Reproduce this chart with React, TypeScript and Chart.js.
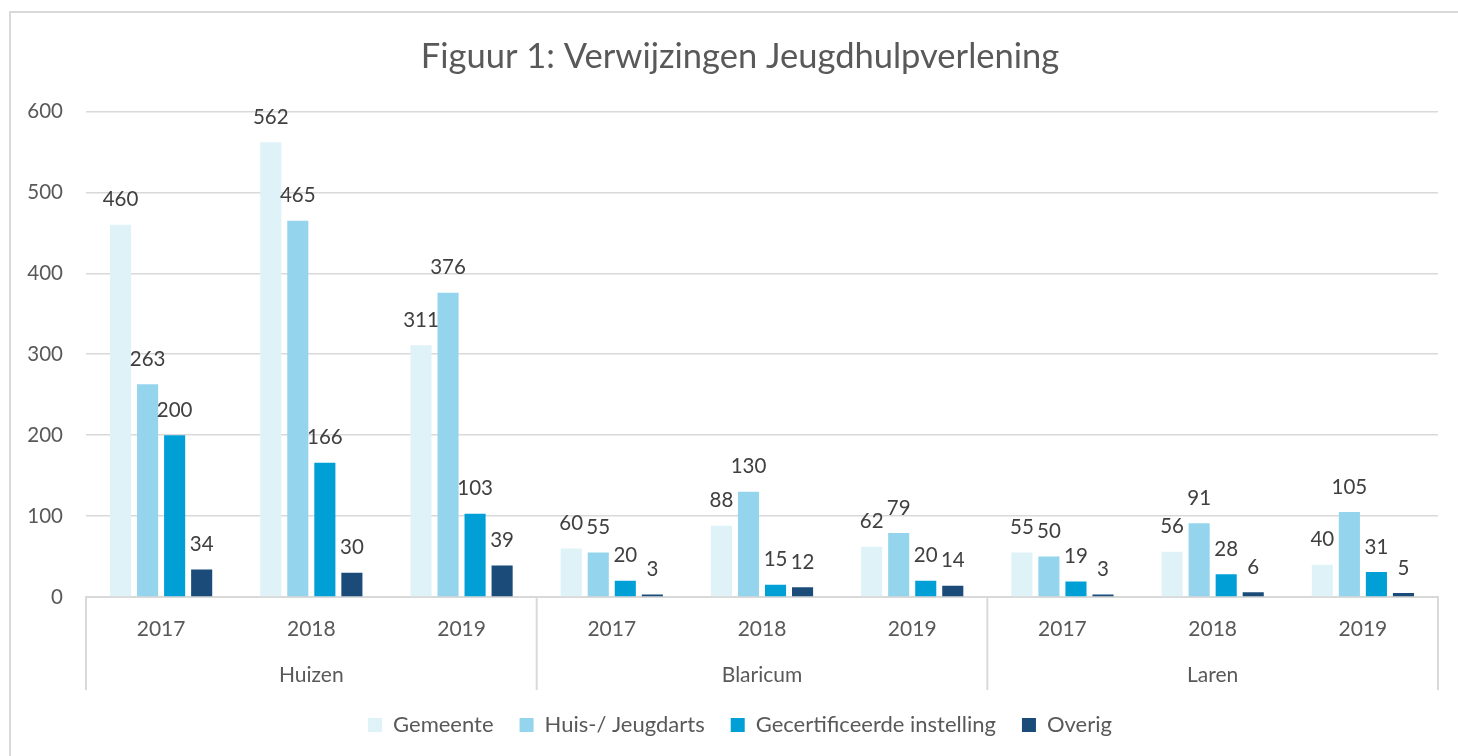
import React, { useEffect, useRef } from "react";
import { Chart, registerables } from "chart.js";

Chart.register(...registerables);

const yearLabels = ["2017", "2018", "2019", "2017", "2018", "2019", "2017", "2018", "2019"];
const groupLabels = ["Huizen", "Blaricum", "Laren"];
const groupSize = 3;

const gemeente = [460, 562, 311, 60, 88, 62, 55, 56, 40];
const huisJeugdarts = [263, 465, 376, 55, 130, 79, 50, 91, 105];
const gecertificeerd = [200, 166, 103, 20, 15, 20, 19, 28, 31];
const overig = [34, 30, 39, 3, 12, 14, 3, 6, 5];

const seriesNames = ["Gemeente", "Huis-/ Jeugdarts", "Gecertificeerde instelling", "Overig"];
const seriesColors = ["#DFF2F8", "#94D4EC", "#00A0D7", "#1B4B78"];

const yTicks = { min: 0, max: 600, step: 100 };
const titleText = "Figuur 1: Verwijzingen Jeugdhulpverlening";

const FONT = "Lato";
const GRID = "#d9d9d9";
const TEXT = "#595959";
const CANVAS_W = 1500;
const CANVAS_H = 756;

const backgroundPlugin = {
  id: "bgBorder",
  beforeDraw(chart: any) {
    const { ctx, width, height } = chart;
    ctx.save();
    ctx.fillStyle = "#ffffff";
    ctx.fillRect(0, 0, width, height);
    ctx.strokeStyle = GRID;
    ctx.lineWidth = 2;
    ctx.beginPath();
    ctx.moveTo(10, height);
    ctx.lineTo(10, 12);
    ctx.lineTo(width, 12);
    ctx.stroke();
    ctx.restore();
  },
};

const dataLabelPlugin = {
  id: "dataLabels",
  afterDatasetsDraw(chart: any) {
    const { ctx } = chart;
    ctx.save();
    ctx.font = `20.5px ${FONT}`;
    ctx.fillStyle = "#404040";
    ctx.textAlign = "center";
    ctx.textBaseline = "middle";
    chart.data.datasets.forEach((ds: any, di: number) => {
      const meta = chart.getDatasetMeta(di);
      meta.data.forEach((bar: any, i: number) => {
        ctx.fillText(String(ds.data[i]), bar.x, bar.y - 25);
      });
    });
    ctx.restore();
  },
};

const groupAxisPlugin = {
  id: "groupAxis",
  afterDraw(chart: any) {
    const { ctx, chartArea } = chart;
    const x = chart.scales.x;
    const n = yearLabels.length;
    const cat = (x.getPixelForValue(n - 1) - x.getPixelForValue(0)) / (n - 1);
    ctx.save();
    ctx.strokeStyle = GRID;
    ctx.lineWidth = 2;
    for (let g = 0; g <= groupLabels.length; g++) {
      const idx = g * groupSize;
      const px = x.getPixelForValue(0) + idx * cat - cat / 2;
      ctx.beginPath();
      ctx.moveTo(px, chartArea.bottom);
      ctx.lineTo(px, chartArea.bottom + 93);
      ctx.stroke();
    }
    ctx.font = `21px ${FONT}`;
    ctx.fillStyle = TEXT;
    ctx.textAlign = "center";
    ctx.textBaseline = "middle";
    groupLabels.forEach((label, g) => {
      const a = x.getPixelForValue(g * groupSize);
      const b = x.getPixelForValue(g * groupSize + groupSize - 1);
      ctx.fillText(label, (a + b) / 2, chartArea.bottom + 78);
    });
    ctx.restore();
  },
};

export default function App() {
  const ref = useRef<HTMLCanvasElement | null>(null);

  useEffect(() => {
    if (!ref.current) return;
    const values = [gemeente, huisJeugdarts, gecertificeerd, overig];
    const chart = new Chart(ref.current, {
      type: "bar",
      data: {
        labels: yearLabels,
        datasets: values.map((d, i) => ({
          label: seriesNames[i],
          data: d,
          backgroundColor: seriesColors[i],
          borderWidth: 0,
          categoryPercentage: 0.72,
          barPercentage: 0.78,
        })),
      },
      options: {
        responsive: false,
        maintainAspectRatio: false,
        animation: false,
        layout: { padding: { left: 0, right: 20, top: 0, bottom: 10 } },
        plugins: {
          title: {
            display: true,
            text: titleText,
            color: TEXT,
            font: { family: FONT, size: 34.5, weight: "normal" },
            padding: { top: 36, bottom: 34 },
          },
          legend: {
            position: "bottom",
            labels: {
              boxWidth: 14,
              boxHeight: 14,
              padding: 26,
              color: TEXT,
              font: { family: FONT, size: 22 },
            },
          },
          tooltip: { enabled: false },
        },
        scales: {
          x: {
            grid: { display: false },
            border: { display: true, color: GRID, width: 2 },
            ticks: { color: TEXT, font: { family: FONT, size: 21 }, padding: 12 },
            afterFit(scale: any) {
              scale.height = 91;
            },
          },
          y: {
            min: yTicks.min,
            max: yTicks.max,
            grid: { color: GRID, lineWidth: 1.5, drawTicks: false },
            border: { display: false },
            ticks: {
              stepSize: yTicks.step,
              color: TEXT,
              font: { family: FONT, size: 20.5 },
              padding: 23,
            },
            afterFit(scale: any) {
              scale.width = 86;
            },
          },
          ySpacer: {
            type: "linear",
            position: "right",
            display: true,
            grid: { drawOnChartArea: false, drawTicks: false },
            border: { display: false },
            ticks: { display: false },
            afterFit(scale: any) {
              scale.width = 42;
            },
          },
        },
      },
      plugins: [backgroundPlugin, dataLabelPlugin, groupAxisPlugin],
    } as any);
    return () => chart.destroy();
  }, []);

  return (
    <div style={{ position: "absolute", left: 0, top: 0, width: 1458, height: 756, overflow: "hidden" }}>
      <canvas ref={ref} width={CANVAS_W} height={CANVAS_H} style={{ display: "block" }} />
    </div>
  );
}
